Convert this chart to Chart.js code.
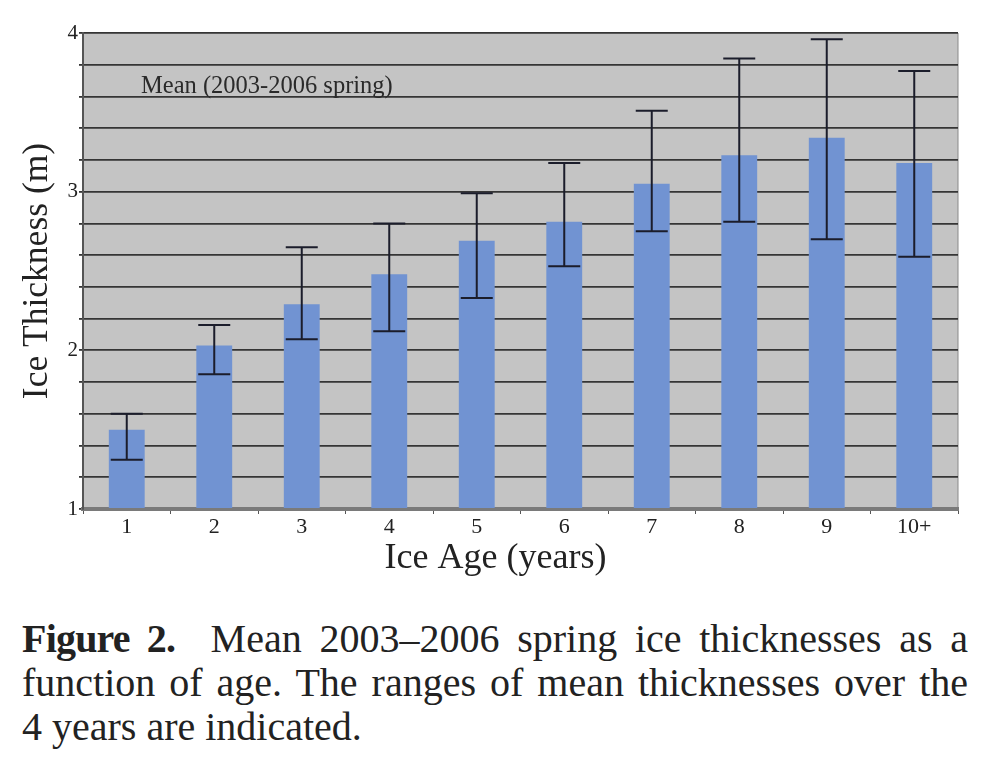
<!DOCTYPE html>
<html>
<head>
<meta charset="utf-8">
<script src="https://cdn.jsdelivr.net/npm/chart.js@4/dist/chart.umd.min.js"></script>
<style>
  html, body { margin: 0; padding: 0; background: #fff; }
  #wrap { position: relative; width: 986px; height: 600px; }
  #caption {
    position: absolute; left: 22px; top: 617px;
    width: 946px;
    font-family: "Liberation Serif", "Times New Roman", serif;
    font-size: 40px; line-height: 44px; color: #222;
  }
  #caption div { white-space: nowrap; }
  #caption .just { text-align: justify; text-align-last: justify; }
  #caption b { letter-spacing: -0.8px; }
</style>
</head>
<body>
<div id="wrap"><canvas id="chart1" width="986" height="600"></canvas></div>
<div id="caption">
  <div class="just"><b>Figure 2.</b>&nbsp; Mean 2003&ndash;2006 spring ice thicknesses as a</div>
  <div class="just">function of age. The ranges of mean thicknesses over the</div>
  <div>4 years are indicated.</div>
</div>
<script>
// Ice age categories and the mean thickness with its 2003-2006 range
const ageLabels = ['1', '2', '3', '4', '5', '6', '7', '8', '9', '10+'];
const meanThickness = [1.50, 2.03, 2.29, 2.48, 2.69, 2.81, 3.05, 3.23, 3.34, 3.18];
const rangeLow = [1.31, 1.85, 2.07, 2.12, 2.33, 2.53, 2.75, 2.81, 2.70, 2.59];
const rangeHigh = [1.60, 2.16, 2.65, 2.80, 2.99, 3.18, 3.51, 3.84, 3.96, 3.76];
const yTicks = [1, 2, 3, 4];

const serif = '"Liberation Serif", "Times New Roman", serif';

// Grey plot background, the note inside the plot and the x title
const plotBackground = {
    id: 'plotBackground',
    beforeDraw(chart) {
        const { ctx, chartArea: a } = chart;
        ctx.save();
        ctx.fillStyle = '#c4c4c4';
        ctx.fillRect(a.left, a.top, a.right - a.left, a.bottom - a.top);
        ctx.strokeStyle = '#8a8a8a';
        ctx.lineWidth = 1;
        ctx.beginPath();
        ctx.moveTo(a.right, a.top);
        ctx.lineTo(a.right, a.bottom);
        ctx.stroke();
        ctx.restore();
    },
    afterDraw(chart) {
        const { ctx, chartArea: a, scales } = chart;
        ctx.save();
        ctx.font = '24.5px ' + serif;
        ctx.fillStyle = '#2a2a2a';
        ctx.textBaseline = 'middle';
        ctx.fillText('Mean (2003-2006 spring)', a.left + 58, scales.y.getPixelForValue(3.66));

        // x title sits a little left of the plot centre in the original
        ctx.font = '36px ' + serif;
        ctx.fillStyle = '#222';
        ctx.textAlign = 'center';
        ctx.textBaseline = 'alphabetic';
        ctx.fillText('Ice Age (years)', (a.left + a.right) / 2 - 25, a.bottom + 59);
        ctx.restore();
    }
};

// Range whiskers drawn from the low/high arrays
const rangeBars = {
    id: 'rangeBars',
    afterDatasetsDraw(chart) {
        const { ctx, scales } = chart;
        const bars = chart.getDatasetMeta(0).data;
        ctx.save();
        ctx.strokeStyle = '#1b1d2b';
        ctx.lineWidth = 2;
        bars.forEach(function (bar, i) {
            const x = bar.x;
            const yLo = scales.y.getPixelForValue(rangeLow[i]);
            const yHi = scales.y.getPixelForValue(rangeHigh[i]);
            const half = 16;
            ctx.beginPath();
            ctx.moveTo(x, yLo);
            ctx.lineTo(x, yHi);
            ctx.moveTo(x - half, yLo);
            ctx.lineTo(x + half, yLo);
            ctx.moveTo(x - half, yHi);
            ctx.lineTo(x + half, yHi);
            ctx.stroke();
        });
        ctx.restore();
    }
};

const ctx = document.getElementById('chart1').getContext('2d');
new Chart(ctx, {
    type: 'bar',
    data: {
        labels: ageLabels,
        datasets: [{
            label: 'Mean (2003-2006 spring)',
            data: meanThickness,
            backgroundColor: '#7193d2',
            borderWidth: 0,
            barPercentage: 0.41,
            categoryPercentage: 1.0,
            base: 1
        }]
    },
    options: {
        responsive: false,
        animation: false,
        devicePixelRatio: 1,
        layout: { padding: { left: 0, top: 33, right: 28, bottom: 0 } },
        plugins: {
            legend: { display: false },
            tooltip: { enabled: false }
        },
        scales: {
            x: {
                grid: {
                    offset: true,
                    drawOnChartArea: false,
                    drawTicks: true,
                    tickLength: 5,
                    color: '#555'
                },
                border: { color: '#7a7a7a', width: 4 },
                ticks: {
                    color: '#222',
                    padding: 0,
                    font: { family: serif, size: 22 }
                },
                afterFit(scale) { scale.height = 91; }
            },
            y: {
                min: 1,
                max: 4,
                grid: {
                    color: '#353535',
                    lineWidth: 1.8,
                    tickLength: 4
                },
                border: { color: '#555', width: 2 },
                ticks: {
                    stepSize: 0.2,
                    autoSkip: false,
                    padding: 1,
                    color: '#222',
                    font: { family: serif, size: 21 },
                    callback: function (v) {
                        const r = Math.round(v);
                        return (Math.abs(v - r) < 1e-6 && yTicks.includes(r)) ? String(r) : '';
                    }
                },
                title: {
                    display: true,
                    text: 'Ice Thickness (m)',
                    color: '#222',
                    font: { family: serif, size: 35.5 },
                    padding: { top: 16, bottom: 0 }
                },
                afterFit(scale) { scale.width = 83; }
            }
        }
    },
    plugins: [plotBackground, rangeBars]
});
</script>
</body>
</html>
